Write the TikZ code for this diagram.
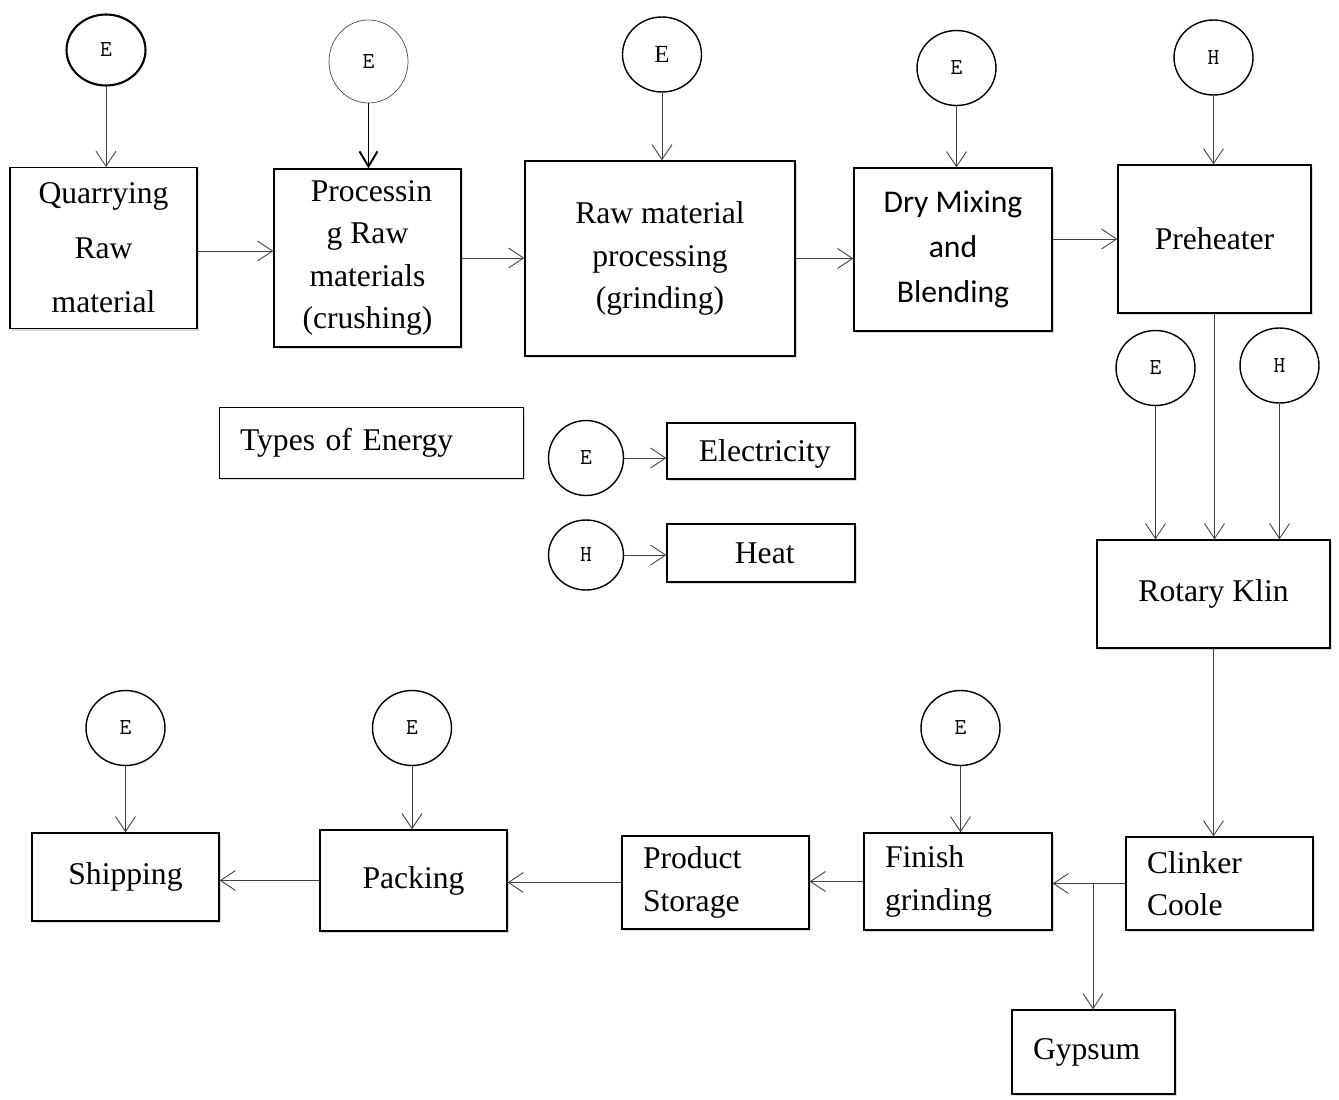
\documentclass[tikz,border=0pt]{standalone}
\usepackage{fontspec}
\setmainfont{Liberation Serif}
\newfontfamily\calibri{Carlito}
\usepackage{tikz}
\usetikzlibrary{arrows.meta,shapes.geometric,shadows}
\tikzset{
    stage/.style={
           rectangle,
           draw=black, thick,
           fill=white,
           inner sep=2pt,
           align=center,
           font=\fontsize{18}{24}\selectfont,
           drop shadow={shadow xshift=1.3pt,shadow yshift=-1.3pt,opacity=0.3},
           },
    lstage/.style={
           stage,
           align=left,
           inner xsep=0.42cm,
           },
    energy/.style={
           ellipse,
           draw=black, thick,
           inner sep=0pt,
           minimum width=1.58cm,
           minimum height=1.5cm,
           font=\ttfamily\fontsize{13}{15}\selectfont,
           },
    flow/.style={
           ->, draw=black!75, line width=0.5pt,
           },
}

\begin{document}
\begin{tikzpicture}[x=0.02cm,y=-0.02cm,>={Straight Barb[length=0.3cm,width=0.4cm]}]
 \useasboundingbox (0,0) rectangle (1339,1099);
 % top row
  \node[stage, semithick,
 minimum width=3.74cm,
 minimum height=3.22cm,
 font=\fontsize{18}{31}\selectfont] (Q) at (103.5,248)
 {Quarrying\\Raw\\material};
  \node[stage,
 minimum width=3.74cm,
 minimum height=3.56cm] (PRM) at (367.5,258)
 {\ Processin\\g Raw\\materials\\(crushing)};
  \node[stage,
 minimum width=5.4cm,
 minimum height=3.9cm] (RMP) at (660,258.5)
 {Raw material\\processing\\(grinding)};
  \node[stage,
 minimum width=3.96cm,
 minimum height=3.26cm,
 font=\calibri\fontsize{18}{25.5}\selectfont] (DMB) at (953,249.5)
 {Dry Mixing\\and\\Blending};
  \node[stage,
 minimum width=3.86cm,
 minimum height=2.96cm] (PH) at (1214.5,239)
 {Preheater};
  \node[stage,
 minimum width=4.66cm,
 minimum height=2.16cm] (RK) at (1213.5,594)
 {Rotary Klin};
 % bottom row
  \node[lstage,
 text width=2.9cm,
 minimum height=1.86cm] (CC) at (1219.5,883.5)
 {Clinker\\Coole};
  \node[lstage,
 text width=2.92cm,
 minimum height=1.94cm] (FG) at (958,881.5)
 {Finish\\grinding};
  \node[lstage,
 text width=2.9cm,
 minimum height=1.86cm] (PS) at (715.5,882.5)
 {Product\\Storage};
  \node[stage,
 minimum width=3.74cm,
 minimum height=2.02cm] (PK) at (413.5,880.5)
 {Packing};
  \node[stage,
 minimum width=3.74cm,
 minimum height=1.76cm] (SH) at (125.5,877)
 {Shipping};
  \node[lstage,
 text width=2.42cm,
 minimum height=1.68cm] (GY) at (1093.5,1052)
 {Gypsum};
 % legend
  \node[lstage, thin,
 drop shadow={opacity=0},
 text width=5.24cm,
 minimum height=1.42cm] (TE) at (371,442.5)
 {Types of Energy};
  \node[stage,
 minimum width=3.76cm,
 minimum height=1.12cm,
 text depth=0pt] (EL) at (761,451)
 {\hspace*{0.15cm}Electricity};
  \node[stage,
 minimum width=3.76cm,
 minimum height=1.16cm] (HT) at (761,553)
 {\hspace*{0.15cm}Heat};
 % energy inputs
 \node[energy, very thick, minimum height=1.42cm] (E1) at (106,50) {E};
 \node[energy, thin, draw=black!70, minimum height=1.66cm] (E2) at (368.5,61.5) {E};
 \node[energy, font=\fontsize{14}{16}\selectfont] (E3) at (662,54.5) {E};
 \node[energy] (E4) at (956.5,68) {E};
 \node[energy] (H1) at (1213.5,57.5) {H};
 \node[energy] (E5) at (1155.5,368) {E};
 \node[energy] (H2) at (1279.5,365.5) {H};
 \node[energy] (E6) at (960.5,728) {E};
 \node[energy] (E7) at (412,728) {E};
 \node[energy] (E8) at (125.5,728) {E};
 \node[energy, minimum width=1.5cm] (LE) at (586,458) {E};
 \node[energy, minimum width=1.5cm, minimum height=1.4cm] (LH) at (586,555) {H};
 \coordinate (split) at (1093,883.5);
 % draw the paths
\path[every edge/.style={flow}]
  (E1) edge (E1 |- Q.north)
  (E2) edge[draw=black, line width=1.1pt, >={Straight Barb[length=0.3cm,width=0.36cm]}] (E2 |- PRM.north)
  (E3) edge (E3 |- RMP.north)
  (E4) edge (E4 |- DMB.north)
  (H1) edge (H1 |- PH.north)
  ([yshift=-0.06cm]Q.east) edge ([yshift=-0.06cm]Q.east -| PRM.west)
  (PRM) edge (PRM.east -| RMP.west)
  (RMP) edge (RMP.east -| DMB.west)
  (DMB.east |- PH.west) edge (PH.west)
  (PH) edge (PH.south |- RK.north)
  (E5) edge (E5 |- RK.north)
  (H2) edge (H2 |- RK.north)
  (RK) edge (RK.south |- CC.north)
  (CC) edge (CC.west -| FG.east)
  (split) edge (split |- GY.north)
  (FG) edge (FG.west -| PS.east)
  (PS) edge (PS.west -| PK.east)
  (PK) edge (PK.west -| SH.east)
  (E6) edge (E6 |- FG.north)
  (E7) edge (E7 |- PK.north)
  (E8) edge (E8 |- SH.north)
  (LE) edge (LE.east -| EL.west)
  (LH) edge (LH.east -| HT.west)
 ;
\end{tikzpicture}
\end{document}
